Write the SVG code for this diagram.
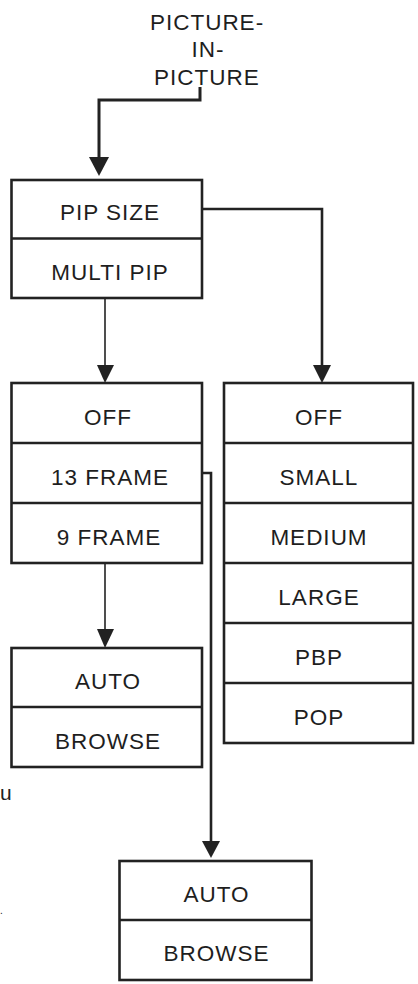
<svg xmlns="http://www.w3.org/2000/svg" width="418" height="984" viewBox="0 0 418 984">
<style>
.box{fill:#fff;stroke:#222;stroke-width:2.6}
.div{stroke:#222;stroke-width:2.4}
.t{font-family:"Liberation Sans",Arial,sans-serif;font-size:22.5px;letter-spacing:1px;fill:#1e1e1e;text-anchor:middle}
.c{fill:none;stroke:#222}
.ah{fill:#222;stroke:none}
.f{font-family:"Liberation Sans",Arial,sans-serif;fill:#222}
</style>
<rect width="418" height="984" fill="#fff"/>
<g id="title">
<text class="t" x="207" y="30">PICTURE-</text>
<text class="t" x="208" y="57">IN-</text>
<text class="t" x="207" y="85">PICTURE</text>
</g>
<g id="connectors">
<polyline class="c" stroke-width="3" points="200,87 200,100 99,100 99,160"/>
<polygon class="ah" points="89,157 109,157 99,176"/>
<polyline class="c" stroke-width="2.6" points="202,209 322,209 322,368"/>
<polygon class="ah" points="313,365 331,365 322,383"/>
<polyline class="c" stroke-width="1.6" points="105,298 105,368"/>
<polygon class="ah" points="97,365 114,365 105,383"/>
<polyline class="c" stroke-width="1.6" points="105,563 105,632"/>
<polygon class="ah" points="97,629 114,629 105,648"/>
<polyline class="c" stroke-width="2.6" points="202,473 211,473 211,844"/>
<polygon class="ah" points="202,841 220,841 211,858"/>
</g>
<g id="pip-menu">
<rect class="box" x="11.5" y="180" width="190.5" height="118"/>
<line class="div" x1="11.5" y1="238.5" x2="202" y2="238.5"/>
<text class="t" x="110" y="220">PIP SIZE</text>
<text class="t" x="110" y="280">MULTI PIP</text>
</g>
<g id="multi-pip-menu">
<rect class="box" x="11.5" y="383" width="190.5" height="180"/>
<line class="div" x1="11.5" y1="443" x2="202" y2="443"/>
<line class="div" x1="11.5" y1="503" x2="202" y2="503"/>
<text class="t" x="108" y="425">OFF</text>
<text class="t" x="110" y="485">13 FRAME</text>
<text class="t" x="109" y="545">9 FRAME</text>
</g>
<g id="size-menu">
<rect class="box" x="224" y="383" width="189" height="360"/>
<line class="div" x1="224" y1="443" x2="413" y2="443"/>
<line class="div" x1="224" y1="503" x2="413" y2="503"/>
<line class="div" x1="224" y1="563" x2="413" y2="563"/>
<line class="div" x1="224" y1="623" x2="413" y2="623"/>
<line class="div" x1="224" y1="683" x2="413" y2="683"/>
<text class="t" x="319" y="425">OFF</text>
<text class="t" x="319" y="485">SMALL</text>
<text class="t" x="319" y="545">MEDIUM</text>
<text class="t" x="319" y="605">LARGE</text>
<text class="t" x="319" y="665">PBP</text>
<text class="t" x="319" y="725">POP</text>
</g>
<g id="nine-frame-menu">
<rect class="box" x="11.5" y="648" width="190.5" height="119"/>
<line class="div" x1="11.5" y1="707" x2="202" y2="707"/>
<text class="t" x="108" y="689">AUTO</text>
<text class="t" x="108" y="749">BROWSE</text>
</g>
<g id="thirteen-frame-menu">
<rect class="box" x="119.5" y="861" width="192" height="119"/>
<line class="div" x1="119.5" y1="920" x2="311.5" y2="920"/>
<text class="t" x="216.5" y="902">AUTO</text>
<text class="t" x="216.5" y="961">BROWSE</text>
</g>
<g id="fragments">
<text class="f" x="0" y="800" font-size="21">u</text>
<text class="f" x="0" y="914" font-size="10">.</text>
</g>
</svg>
